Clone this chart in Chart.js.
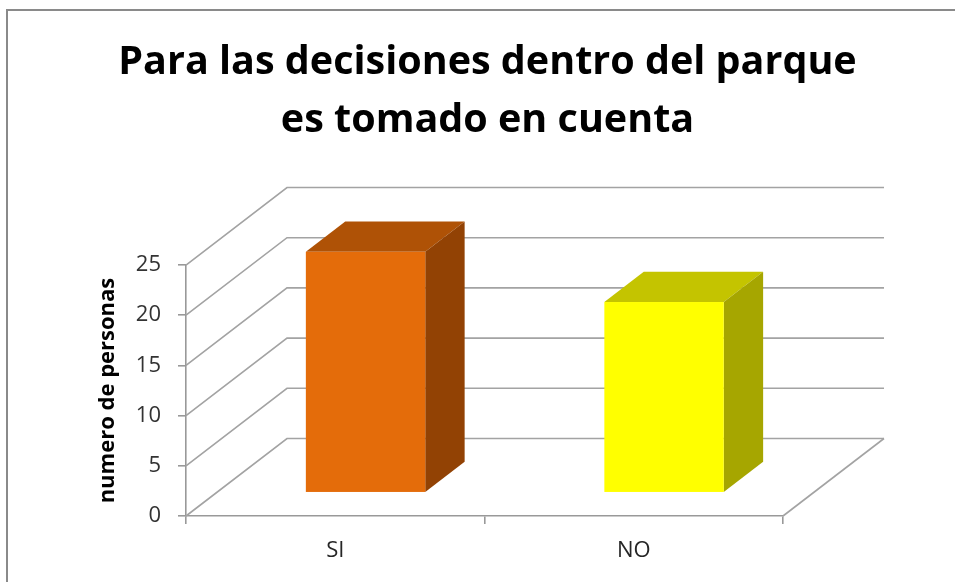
<!DOCTYPE html>
<html>
<head>
<meta charset="utf-8">
<title>Para las decisiones dentro del parque</title>
<script src="https://cdn.jsdelivr.net/npm/chart.js@4.4.1/dist/chart.umd.min.js"></script>
<style>
  html, body { margin: 0; padding: 0; background: #fff; }
  #wrap { width: 955px; height: 582px; }
</style>
</head>
<body>
<div id="wrap"><canvas id="chart" width="955" height="582"></canvas></div>
<script>
// Survey answers
const categories = ['SI', 'NO'];
const respuestas = [24, 19];
const titleLines = ['Para las decisiones dentro del parque', 'es tomado en cuenta'];
const yTitle = 'numero de personas';
const yMin = 0;
const yMax = 25;
const yStep = 5;

// face colours of each box: front, top, side
const frontColors = ['#E46C0A', '#FFFF00'];
const topColors = ['#AF5206', '#C4C400'];
const sideColors = ['#924204', '#A6A600'];

// 3D look: offset from the front plane to the back wall
const DEPTH_X = 101;
const DEPTH_Y = -77.5;
// boxes sit between these fractions of the depth
const BAR_FRONT = 0.30;
const BAR_BACK = 0.69;

const GRID_COLOR = '#a3a3a3';
const AXIS_COLOR = '#999999';
const FONT = "'Open Sans', 'DejaVu Sans', sans-serif";

// gray frame round the whole chart
const frame = {
    id: 'frame',
    beforeDraw(chart) {
        const ctx = chart.ctx;
        ctx.save();
        ctx.strokeStyle = '#8a8a8a';
        ctx.lineWidth = 2;
        ctx.strokeRect(7, 10, chart.width + 20, chart.height + 20);
        ctx.restore();
    }
};

// gridlines running back from the value axis, plus the floor edge
const walls = {
    id: 'walls',
    beforeDatasetsDraw(chart) {
        const { ctx, chartArea: a, scales: { y } } = chart;
        ctx.save();
        ctx.strokeStyle = GRID_COLOR;
        ctx.lineWidth = 1.6;
        y.ticks.forEach(t => {
            const py = y.getPixelForValue(t.value);
            ctx.beginPath();
            ctx.moveTo(a.left, py);
            ctx.lineTo(a.left + DEPTH_X, py + DEPTH_Y);
            ctx.lineTo(a.right + DEPTH_X, py + DEPTH_Y);
            ctx.stroke();
        });
        const base = y.getPixelForValue(yMin);
        ctx.beginPath();
        ctx.moveTo(a.right, base);
        ctx.lineTo(a.right + DEPTH_X, base + DEPTH_Y);
        ctx.stroke();
        ctx.restore();
    }
};

// each bar is drawn as a box: front face, top and right side
const boxes = {
    id: 'boxes',
    beforeDatasetDraw() {
        return false;
    },
    afterDatasetsDraw(chart) {
        const ctx = chart.ctx;
        const meta = chart.getDatasetMeta(0);
        const fx = BAR_FRONT * DEPTH_X, fy = BAR_FRONT * DEPTH_Y;
        const dx = (BAR_BACK - BAR_FRONT) * DEPTH_X;
        const dy = (BAR_BACK - BAR_FRONT) * DEPTH_Y;
        ctx.save();
        meta.data.forEach((el, i) => {
            const { x, y, base, width } = el.getProps(['x', 'y', 'base', 'width'], true);
            const x0 = x - width / 2 + fx;
            const x1 = x + width / 2 + fx;
            const top = y + fy;
            const bottom = base + fy;

            ctx.fillStyle = topColors[i];
            ctx.beginPath();
            ctx.moveTo(x0, top);
            ctx.lineTo(x0 + dx, top + dy);
            ctx.lineTo(x1 + dx, top + dy);
            ctx.lineTo(x1, top);
            ctx.closePath();
            ctx.fill();

            ctx.fillStyle = sideColors[i];
            ctx.beginPath();
            ctx.moveTo(x1, top);
            ctx.lineTo(x1 + dx, top + dy);
            ctx.lineTo(x1 + dx, bottom + dy);
            ctx.lineTo(x1, bottom);
            ctx.closePath();
            ctx.fill();

            ctx.fillStyle = frontColors[i];
            ctx.fillRect(x0, top, x1 - x0, bottom - top);
        });
        ctx.restore();
    }
};

new Chart(document.getElementById('chart'), {
    type: 'bar',
    data: {
        labels: categories,
        datasets: [{
            label: yTitle,
            data: respuestas,
            backgroundColor: frontColors,
            barPercentage: 0.4,
            categoryPercentage: 1.0
        }]
    },
    options: {
        responsive: false,
        animation: false,
        layout: { padding: { left: 20, right: 0, top: 0, bottom: 0 } },
        plugins: {
            legend: { display: false },
            tooltip: { enabled: false },
            title: {
                display: true,
                text: titleLines,
                color: '#000',
                font: { family: FONT, size: 39.5, weight: 'bold', lineHeight: 1.46 },
                padding: { top: 34, bottom: 115.7 }
            }
        },
        scales: {
            x: {
                offset: true,
                grid: { offset: true, drawOnChartArea: false, tickLength: 8, color: AXIS_COLOR, lineWidth: 1.6 },
                border: { color: AXIS_COLOR, width: 1.6 },
                ticks: { color: '#262626', padding: 14, font: { family: FONT, size: 22 } },
                afterFit: s => { s.height = 66; }
            },
            y: {
                min: yMin,
                max: yMax,
                grid: { drawOnChartArea: false, tickLength: 8, color: AXIS_COLOR, lineWidth: 1.6 },
                border: { color: AXIS_COLOR, width: 1.6 },
                ticks: { stepSize: yStep, color: '#333', padding: 17, font: { family: FONT, size: 22 } },
                title: {
                    display: true,
                    text: yTitle,
                    color: '#000',
                    font: { family: FONT, size: 22, weight: 'bold' },
                    padding: { top: 75 }
                },
                afterFit: s => { s.width = 166; }
            },
            // empty strip on the right that leaves room for the back wall
            side: {
                position: 'right',
                grid: { display: false },
                border: { display: false },
                ticks: { display: false },
                afterFit: s => { s.width = 172; }
            }
        }
    },
    plugins: [frame, walls, boxes]
});
</script>
</body>
</html>
